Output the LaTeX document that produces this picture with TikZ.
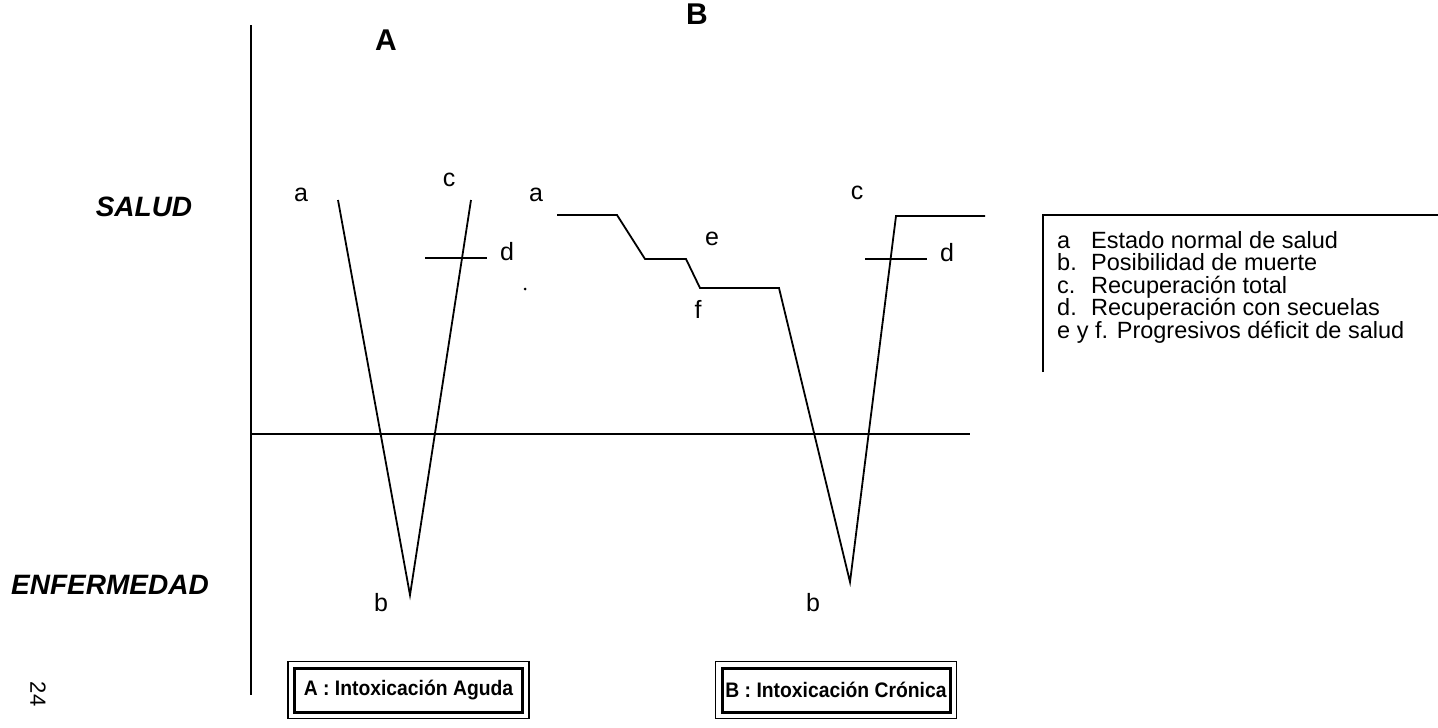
\documentclass[tikz,border=0pt]{standalone}
\usepackage{fontspec}
\setmainfont{Liberation Sans}
\newfontfamily\boxfont[FakeStretch=0.92]{Liberation Sans}
\begin{document}
\begin{tikzpicture}[x=1pt,y=-1pt,
  trace/.style={line width=1.8pt, line join=miter},
  rule/.style={line width=1.8pt},
  pt/.style={font=\fontsize{25}{28}\selectfont, inner sep=0pt},
  panel/.style={font=\fontsize{30}{32}\selectfont\bfseries, inner sep=0pt},
  level/.style={font=\fontsize{28}{30}\selectfont\bfseries\itshape, inner sep=0pt},
  keyline/.style={font=\fontsize{23.5}{25}\selectfont, inner sep=0pt, anchor=base west},
  titlebox/.style={draw, line width=3pt, minimum width=228pt, minimum height=44pt,
    inner sep=0pt, font=\boxfont\fontsize{21}{23}\selectfont\bfseries}]
\useasboundingbox (0,0) rectangle (1438,728);

% axes
\coordinate (ytop) at (251,25);
\coordinate (ybot) at (251,695);
\coordinate (hl) at (251,434);
\coordinate (hr) at (970,434);
\draw[rule] (ytop) -- (ybot);
\draw[rule] (hl) -- (hr);

% level names
\node[level] (salud) at (144,207) {SALUD};
\node[level] (enf) at (110,585) {ENFERMEDAD};
\node[font=\fontsize{22}{23}\selectfont, rotate=-90, inner sep=0pt] (pg) at (38,694) {24};

% panel letters
\node[panel] (pA) at (386,40) {A};
\node[panel] (pB) at (697,14) {B};

% acute intoxication curve
\coordinate (a1) at (338,200);
\coordinate (a2) at (410,595);
\coordinate (a3) at (471,200);
\draw[trace] (a1) -- (a2) -- (a3);
\coordinate (ad1) at (425,258);
\coordinate (ad2) at (487,258);
\draw[line width=1.4pt] (ad1) -- (ad2);
\node[pt] (la) at (301,195) {a};
\node[pt] (lc) at (449,180) {c};
\node[pt] (ld) at (507,252) {d};
\node[pt] (lb) at (381,603) {b};
\fill (525,289) circle (1.5pt);

% chronic intoxication curve
\coordinate (b1) at (557,215);
\coordinate (b2) at (617,215);
\coordinate (b3) at (645,259);
\coordinate (b4) at (686,259);
\coordinate (b5) at (700,288);
\coordinate (b6) at (779,288);
\coordinate (b7) at (850,582);
\coordinate (b8) at (896,216);
\coordinate (b9) at (985,216);
\draw[trace] (b1) -- (b2) -- (b3) -- (b4) -- (b5) -- (b6) -- (b7) -- (b8) -- (b9);
\coordinate (bd1) at (865,259);
\coordinate (bd2) at (927,259);
\draw[line width=1.4pt] (bd1) -- (bd2);
\node[pt] (ma) at (536,195) {a};
\node[pt] (me) at (712,239) {e};
\node[pt] (mf) at (698,309) {f};
\node[pt] (mc) at (857,193) {c};
\node[pt] (md) at (947,253) {d};
\node[pt] (mb) at (813,603) {b};

% legend
\coordinate (k0) at (1043,215);
\coordinate (k1) at (1438,215);
\coordinate (k2) at (1043,372);
\draw[line width=1.4pt] (k2) -- (k0) -- (k1);
\node[keyline] (k1a) at (1057,248) {a};
\node[keyline] (k1b) at (1091,248) {Estado normal de salud};
\node[keyline] (k2a) at (1057,270.5) {b.};
\node[keyline] (k2b) at (1091,270.5) {Posibilidad de muerte};
\node[keyline] (k3a) at (1057,293) {c.};
\node[keyline] (k3b) at (1091,293) {Recuperación total};
\node[keyline] (k4a) at (1057,315.5) {d.};
\node[keyline] (k4b) at (1091,315.5) {Recuperación con secuelas};
\node[keyline] (k5a) at (1057,338) {e y f. Progresivos déficit de salud};

% title boxes with a thin outer frame
\node[titlebox] (tA) at (408.5,690) {A : Intoxicación Aguda};
\draw[line width=1.2pt] ([shift={(-5,-5)}]tA.north west) rectangle ([shift={(5,5)}]tA.south east);
\node[titlebox] (tB) at (836,690) {B : Intoxicación Crónica};
\draw[line width=1.2pt] ([shift={(-5,-5)}]tB.north west) rectangle ([shift={(5,5)}]tB.south east);
\end{tikzpicture}
\end{document}
